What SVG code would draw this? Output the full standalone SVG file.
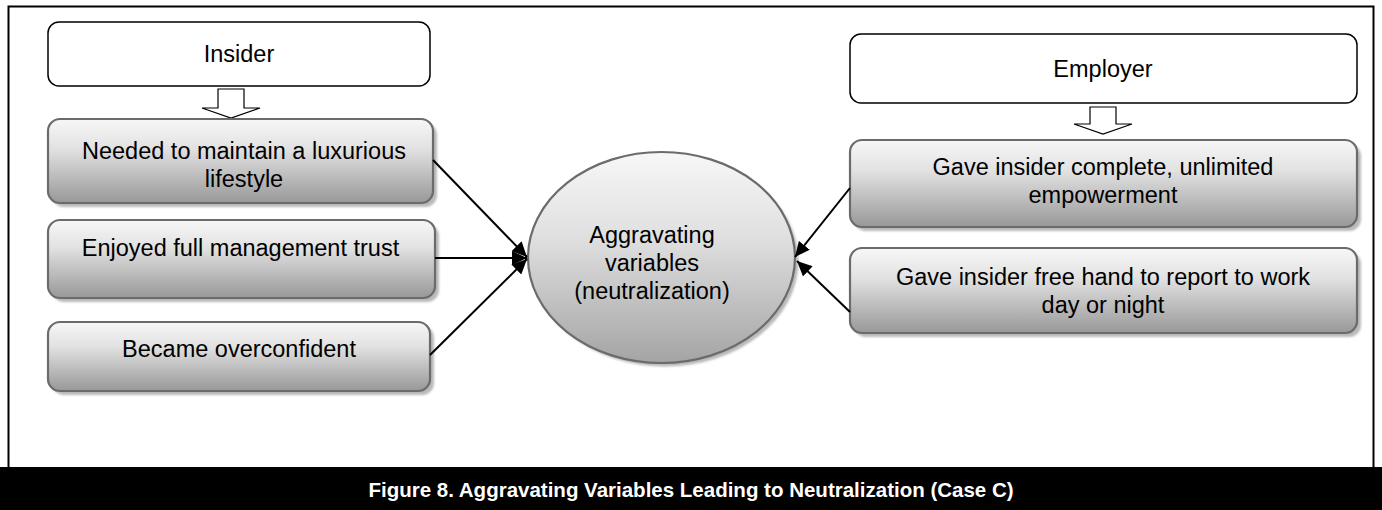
<svg xmlns="http://www.w3.org/2000/svg" width="1382" height="510" viewBox="0 0 1382 510">
  <style>
    text { font-family: "Liberation Sans", Arial, sans-serif; fill: #000; }
    .lbl { font-size: 23.5px; text-anchor: middle; }
    .head { fill: #fff; stroke: #000; stroke-width: 1.5; }
    .box { fill: url(#boxGrad); stroke: #6b6b6b; stroke-width: 2.2; }
    .shadow { fill: #b9b9b9; filter: url(#soft); }
    .barrow { fill: #fff; stroke: #000; stroke-width: 1.2; stroke-linejoin: miter; }
    .conn { fill: none; stroke: #000; stroke-width: 2; marker-end: url(#tip); }
    .caption { font-size: 20.5px; font-weight: bold; fill: #fff; text-anchor: middle; }
  </style>
  <defs>
    <linearGradient id="boxGrad" x1="0" y1="0" x2="0" y2="1">
      <stop offset="0" stop-color="#f7f7f7"/>
      <stop offset="0.35" stop-color="#e2e2e2"/>
      <stop offset="1" stop-color="#989898"/>
    </linearGradient>
    <linearGradient id="ovalGrad" x1="0" y1="0" x2="0" y2="1">
      <stop offset="0" stop-color="#f7f7f7"/>
      <stop offset="0.4" stop-color="#e0e0e0"/>
      <stop offset="1" stop-color="#a4a4a4"/>
    </linearGradient>
    <filter id="soft" x="-5%" y="-5%" width="110%" height="110%">
      <feGaussianBlur stdDeviation="1"/>
    </filter>
    <marker id="tip" markerUnits="userSpaceOnUse" markerWidth="16" markerHeight="14" refX="15" refY="7" orient="auto">
      <path d="M0,0 L15,7 L0,14 Z" fill="#000"/>
    </marker>
  </defs>

  <rect x="0" y="0" width="1382" height="510" fill="#fff"/>
  <!-- outer frame -->
  <rect x="8.5" y="6.5" width="1365" height="462" fill="none" stroke="#000" stroke-width="2"/>

  <!-- left column -->
  <g id="insider">
    <rect class="head" x="48" y="22" width="382" height="64" rx="11"/>
    <text class="lbl" x="239" y="62">Insider</text>
  </g>
  <g id="insider-arrow">
    <path class="barrow" d="M218,89 H244 V108 H260 L231,118 L202,108 H218 Z"/>
  </g>
  <g id="luxury">
    <rect class="shadow" x="52" y="123" width="385" height="84" rx="12"/>
    <rect class="box" x="48" y="119" width="385" height="84" rx="12"/>
    <text class="lbl" x="244" y="159">Needed to maintain a luxurious</text>
    <text class="lbl" x="244" y="187">lifestyle</text>
  </g>
  <g id="trust">
    <rect class="shadow" x="52" y="224" width="387" height="78" rx="12"/>
    <rect class="box" x="48" y="220" width="387" height="78" rx="12"/>
    <text class="lbl" x="240.5" y="256">Enjoyed full management trust</text>
  </g>
  <g id="overconfident">
    <rect class="shadow" x="52" y="326" width="382" height="69" rx="12"/>
    <rect class="box" x="48" y="322" width="382" height="69" rx="12"/>
    <text class="lbl" x="239" y="357">Became overconfident</text>
  </g>

  <!-- centre -->
  <g id="aggravating">
    <ellipse class="shadow" cx="665" cy="261" rx="133.5" ry="105.5"/>
    <ellipse cx="661.5" cy="257.5" rx="133.5" ry="105.5" fill="url(#ovalGrad)" stroke="#6b6b6b" stroke-width="2.2"/>
    <text class="lbl" x="652" y="243">Aggravating</text>
    <text class="lbl" x="652" y="271">variables</text>
    <text class="lbl" x="652" y="299">(neutralization)</text>
  </g>

  <!-- right column -->
  <g id="employer">
    <rect class="head" x="850" y="34" width="507" height="69" rx="11"/>
    <text class="lbl" x="1103" y="77">Employer</text>
  </g>
  <g id="employer-arrow">
    <path class="barrow" d="M1090,107 H1116 V124 H1132 L1103,134 L1074,124 H1090 Z"/>
  </g>
  <g id="empowerment">
    <rect class="shadow" x="854" y="144" width="507" height="87" rx="12"/>
    <rect class="box" x="850" y="140" width="507" height="87" rx="12"/>
    <text class="lbl" x="1103" y="175">Gave insider complete, unlimited</text>
    <text class="lbl" x="1103" y="203">empowerment</text>
  </g>
  <g id="free-hand">
    <rect class="shadow" x="854" y="252" width="507" height="85" rx="12"/>
    <rect class="box" x="850" y="248" width="507" height="85" rx="12"/>
    <text class="lbl" x="1103" y="285">Gave insider free hand to report to work</text>
    <text class="lbl" x="1103" y="313">day or night</text>
  </g>

  <!-- connectors -->
  <g id="connectors">
    <line class="conn" x1="433" y1="160" x2="527" y2="257"/>
    <line class="conn" x1="435" y1="258" x2="527" y2="258"/>
    <line class="conn" x1="430" y1="355" x2="527" y2="259"/>
    <line class="conn" x1="850" y1="188" x2="795" y2="257"/>
    <line class="conn" x1="850" y1="312" x2="797" y2="261"/>
  </g>

  <!-- caption bar -->
  <g id="caption">
    <rect x="0" y="467" width="1382" height="43" fill="#000"/>
    <text class="caption" x="691" y="497">Figure 8. Aggravating Variables Leading to Neutralization (Case C)</text>
  </g>
</svg>
